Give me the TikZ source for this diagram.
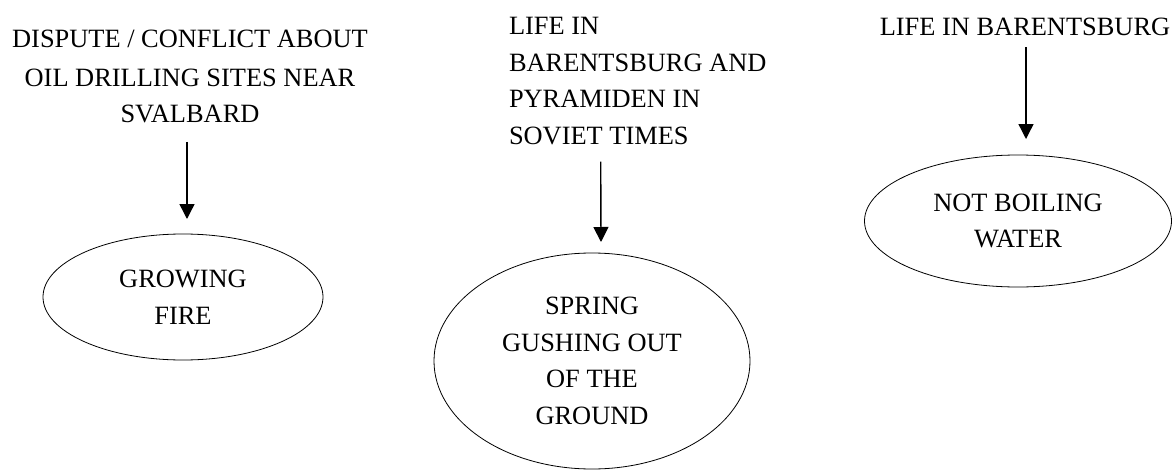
\documentclass[tikz,border=0pt]{standalone}
\usepackage{fontspec}
\setmainfont{Liberation Serif}
\usetikzlibrary{arrows.meta,shapes.geometric}
\tikzset{
  lbl/.style={inner sep=0pt, outer sep=0pt, font=\fontsize{26.4pt}{36.6pt}\selectfont},
  oval/.style={lbl, draw, ellipse, line width=0.8pt, align=center},
  arr/.style={line width=1.4pt, -{Triangle[width=15pt,length=15pt]}}
}
\begin{document}
\begin{tikzpicture}[x=1pt,y=-1pt]
\useasboundingbox[fill=white] (0,0) rectangle (1176,471);
\node[lbl, align=center] (t1) at (190,76.5) {DISPUTE / CONFLICT ABOUT\\[2.5pt]OIL DRILLING SITES NEAR\\SVALBARD};
\node[lbl, align=left, anchor=west] (t2) at (509,81) {LIFE IN\\BARENTSBURG AND\\PYRAMIDEN IN\\SOVIET TIMES};
\node[lbl, anchor=base] (t3) at (1025,35) {LIFE IN BARENTSBURG};
\node[oval, minimum width=280pt, minimum height=126pt] (e1) at (183,297) {GROWING\\FIRE};
\node[oval, minimum width=316pt, minimum height=216pt] (e2) at (592,361) {SPRING\\GUSHING OUT\\OF THE\\GROUND};
\node[oval, minimum width=307pt, minimum height=132pt] (e3) at (1018,221) {NOT BOILING\\WATER};
\draw[arr] ([xshift=-3pt,yshift=-18.5pt]t1.south) -- ([xshift=4pt,yshift=15pt]e1.north);
\draw[arr] ([xshift=-37pt,yshift=-17pt]t2.south) -- ([xshift=9pt,yshift=11pt]e2.north);
\draw[arr] ([xshift=1pt,yshift=-12pt]t3.base) -- ([xshift=8pt,yshift=16pt]e3.north);
\end{tikzpicture}
\end{document}
